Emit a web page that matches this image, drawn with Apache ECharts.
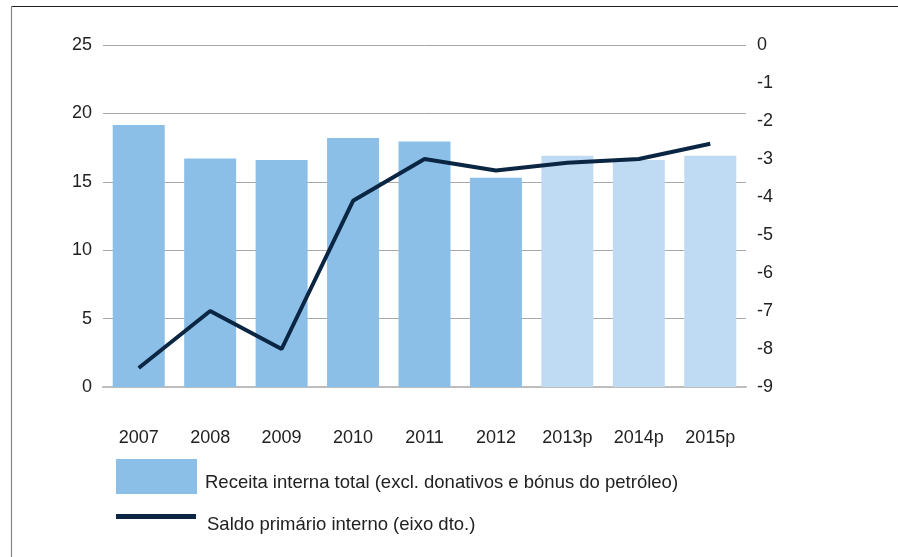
<!DOCTYPE html>
<html>
<head>
<meta charset="utf-8">
<script src="https://cdn.jsdelivr.net/npm/echarts@6/dist/echarts.min.js"></script>
<style>
  html, body { margin: 0; padding: 0; background: #fff; }
  #chart { width: 898px; height: 557px; }
</style>
</head>
<body>
<div id="chart"></div>
<script>
const years = ['2007', '2008', '2009', '2010', '2011', '2012', '2013p', '2014p', '2015p']
const receita = [19.15, 16.7, 16.6, 18.2, 17.95, 15.3, 16.9, 16.6, 16.9]
const saldo = [-8.5, -7.0, -8.0, -4.1, -3.0, -3.3, -3.1, -3.0, -2.6]
const projected = [false, false, false, false, false, false, true, true, true]
const barName = 'Receita interna total (excl. donativos e bónus do petróleo)'
const lineName = 'Saldo primário interno (eixo dto.)'

const font = 'Liberation Sans, Arial, sans-serif'
const barColor = '#8bbfe8'
const barColorLight = '#bfdaf3'
const lineColor = '#0a2643'

const chart = echarts.init(document.getElementById('chart'))
const option = {
  backgroundColor: '#ffffff',
  animation: false,
  textStyle: { fontFamily: font },
  grid: { left: 103, right: 152, top: 45, bottom: 170 },
  graphic: [
    { type: 'line', shape: { x1: 11.5, y1: 6.5, x2: 898, y2: 6.5 }, style: { stroke: '#222', lineWidth: 1.2 } },
    { type: 'line', shape: { x1: 11.5, y1: 6.5, x2: 11.5, y2: 557 }, style: { stroke: '#888', lineWidth: 1.2 } }
  ],
  legend: [
    {
      data: [{ name: barName, icon: 'rect' }],
      left: 116, top: 459, padding: 0,
      itemWidth: 81, itemHeight: 35,
      itemStyle: { color: barColor },
      formatter: '{t|{name}}',
      textStyle: {
        rich: { t: { fontSize: 18.5, color: '#222', fontFamily: font, padding: [13, 0, 0, 3] } }
      }
    },
    {
      data: [{ name: lineName, icon: 'rect' }],
      left: 116, top: 514, padding: 0,
      itemWidth: 80, itemHeight: 5,
      itemStyle: { color: lineColor },
      lineStyle: { width: 0 },
      formatter: '{t|{name}}',
      textStyle: {
        rich: { t: { fontSize: 18.5, color: '#222', fontFamily: font, padding: [16, 0, 0, 6] } }
      }
    }
  ],
  xAxis: {
    type: 'category',
    data: years,
    axisLine: { show: true, lineStyle: { color: '#bdbdbd', width: 2 } },
    axisTick: { show: false },
    axisLabel: { fontSize: 18, color: '#222', margin: 42, fontFamily: font }
  },
  yAxis: [
    {
      type: 'value', min: 0, max: 25, interval: 5,
      axisLine: { show: false }, axisTick: { show: false },
      axisLabel: { fontSize: 18, color: '#222', margin: 11, fontFamily: font },
      splitLine: { lineStyle: { color: '#a8a8a8', width: 1 } }
    },
    {
      type: 'value', min: -9, max: 0, interval: 1,
      axisLine: { show: false }, axisTick: { show: false },
      axisLabel: { fontSize: 18, color: '#222', margin: 11, fontFamily: font },
      splitLine: { show: false }
    }
  ],
  series: [
    {
      name: barName,
      type: 'bar',
      barWidth: 52,
      itemStyle: { color: barColor },
      data: receita.map((v, i) => ({ value: v, itemStyle: { color: projected[i] ? barColorLight : barColor } }))
    },
    {
      name: lineName,
      type: 'line',
      yAxisIndex: 1,
      symbol: 'none',
      lineStyle: { color: lineColor, width: 4 },
      itemStyle: { color: lineColor },
      data: saldo
    }
  ]
}
chart.setOption(option)
</script>
</body>
</html>
